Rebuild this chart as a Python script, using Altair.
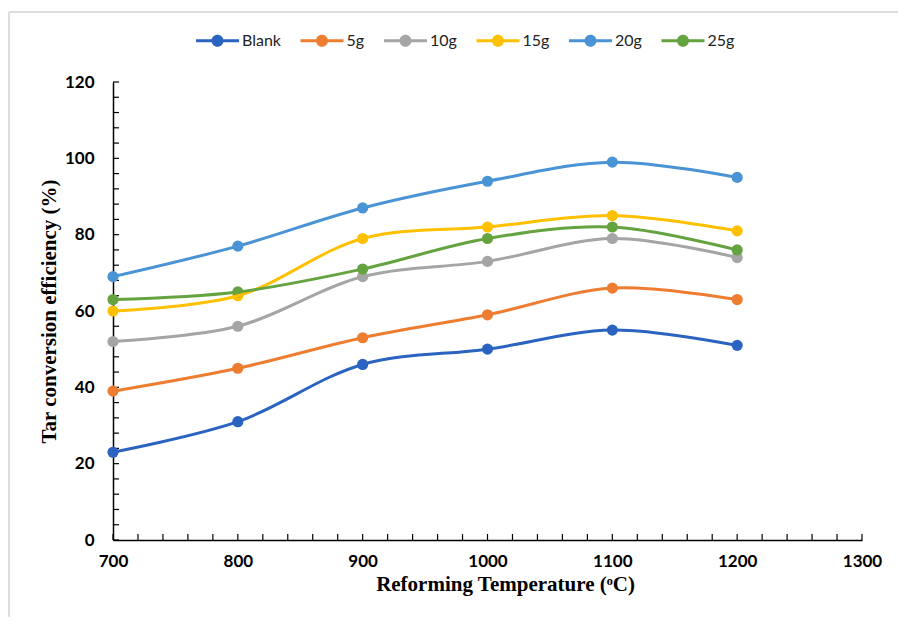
import altair as alt
import pandas as pd

temps = [700, 800, 900, 1000, 1100, 1200]
series_names = ["Blank", "5g", "10g", "15g", "20g", "25g"]
blank = [23, 31, 46, 50, 55, 51]
g5 = [39, 45, 53, 59, 66, 63]
g10 = [52, 56, 69, 73, 79, 74]
g15 = [60, 64, 79, 82, 85, 81]
g20 = [69, 77, 87, 94, 99, 95]
g25 = [63, 65, 71, 79, 82, 76]
colors = ["#2A63C0", "#ED7D31", "#A5A5A5", "#FFC000", "#4A93D4", "#64A340"]

x_ticks_major = [700, 800, 900, 1000, 1100, 1200, 1300]
y_ticks_major = [0, 20, 40, 60, 80, 100, 120]
x_ticks_minor = list(range(700, 1301, 20))
y_ticks_minor = list(range(0, 121, 4))

rows = []
for name, vals in zip(series_names, [blank, g5, g10, g15, g20, g25]):
    for t, v in zip(temps, vals):
        rows.append({"temp": t, "eff": v, "series": name})
df = pd.DataFrame(rows)

W, H = 749, 458

xscale = alt.Scale(domain=[700, 1300], nice=False, zero=False)
yscale = alt.Scale(domain=[0, 120], nice=False)
cscale = alt.Scale(domain=series_names, range=colors)

legend_path = ("M-1,-0.07 L1,-0.07 L1,0.07 L-1,0.07 Z "
               "M-0.28,0 A0.28,0.28 0 1,1 0.28,0 A0.28,0.28 0 1,1 -0.28,0 Z")

xaxis = alt.Axis(values=x_ticks_major, format="d", ticks=False, grid=False, labelPadding=13,
                 labelFlush=False,
                 labelFont="Lato", labelFontWeight="bold", labelFontSize=17, labelColor="black",
                 domainColor="black", domainWidth=1.5,
                 title="Reforming Temperature (ᵒC)", titleFont="Liberation Serif",
                 titleFontWeight="bold", titleFontSize=21, titleColor="black",
                 titleX=392, titleY=50, titleBaseline="alphabetic", titleAnchor="middle")
yaxis = alt.Axis(values=y_ticks_major, format="d", ticks=False, grid=False, labelPadding=19,
                 labelFlush=False,
                 labelFont="Lato", labelFontWeight="bold", labelFontSize=17, labelColor="black",
                 domainColor="black", domainWidth=1.5,
                 title="Tar conversion efficiency (%)", titleFont="Liberation Serif",
                 titleFontWeight="bold", titleFontSize=21, titleColor="black",
                 titleX=-58, titleY=229, titleAngle=-90, titleBaseline="alphabetic",
                 titleAnchor="middle")

legend = alt.Legend(title=None, orient="none", direction="horizontal", legendX=83, legendY=-63,
                    symbolType=legend_path, symbolSize=1849, symbolStrokeWidth=0,
                    labelFont="Lato", labelFontSize=16, labelColor="#222222",
                    labelOffset=3, columnPadding=19.5, columns=6)

base = alt.Chart(df)

points = base.mark_point(filled=True, size=125, opacity=1).encode(
    x=alt.X("temp:Q", scale=xscale, axis=xaxis),
    y=alt.Y("eff:Q", scale=yscale, axis=yaxis),
    color=alt.Color("series:N", scale=cscale, sort=series_names, legend=legend),
)

lines = base.mark_line(strokeWidth=3, interpolate="catmull-rom").encode(
    x=alt.X("temp:Q", scale=xscale),
    y=alt.Y("eff:Q", scale=yscale),
    color=alt.Color("series:N", scale=cscale, sort=series_names, legend=legend),
    detail="series:N",
)

ytick_df = pd.DataFrame({"v": y_ticks_minor})
xtick_df = pd.DataFrame({"v": x_ticks_minor})

yticks = alt.Chart(ytick_df).mark_rule(color="black", strokeWidth=1.2).encode(
    y=alt.Y("v:Q", scale=yscale), x=alt.value(0), x2=alt.value(6))
xticks = alt.Chart(xtick_df).mark_rule(color="black", strokeWidth=1.2).encode(
    x=alt.X("v:Q", scale=xscale), y=alt.value(H), y2=alt.value(H - 6))

frame_df = pd.DataFrame({"k": [0]})
frame_v = alt.Chart(frame_df).mark_rule(color="#DDDDDD", strokeWidth=2).encode(
    x=alt.value(-104), y=alt.value(-70), y2=alt.value(535))
frame_h = alt.Chart(frame_df).mark_rule(color="#DDDDDD", strokeWidth=2).encode(
    x=alt.value(-104), x2=alt.value(785), y=alt.value(-70))

chart = alt.layer(frame_v, frame_h, yticks, xticks, points, lines).properties(
    width=W, height=H,
    autosize=alt.AutoSizeParams(type="none"),
    padding={"left": 105, "top": 74, "right": 36, "bottom": 77},
).configure(background="white", view=alt.ViewConfig(stroke=None))

chart.save("out.html", embed_options={"renderer": "svg", "actions": False})
